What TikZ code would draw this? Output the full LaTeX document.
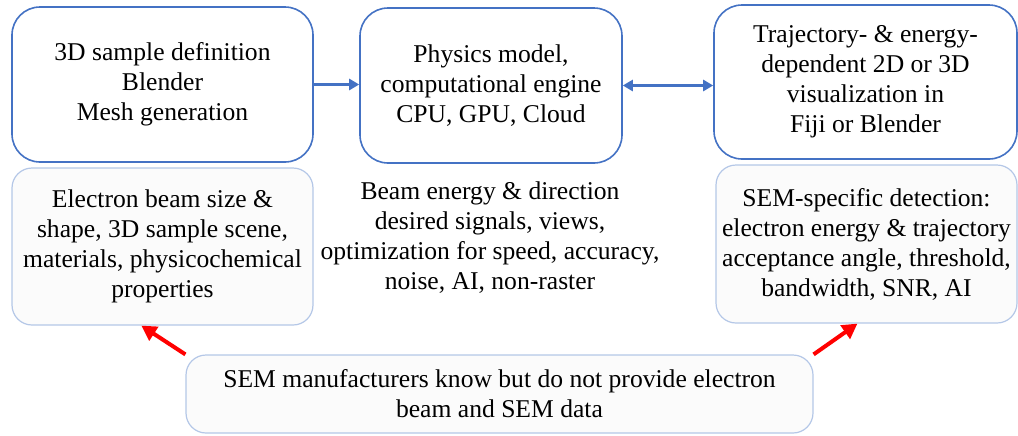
\documentclass[tikz,border=0pt]{standalone}
\usepackage{xcolor}
\usepackage{fontspec}
\setmainfont{Liberation Serif}
\usepackage{tikz}
\usetikzlibrary{arrows.meta,calc}
\definecolor{boxblue}{HTML}{4472C4}
\definecolor{paleblue}{HTML}{B4C7E7}
\definecolor{offwhite}{HTML}{FBFBFB}

\begin{document}
\begin{tikzpicture}[x=0.5pt,y=-0.5pt]
\tikzstyle{stage} = [draw=boxblue,line width=0.8pt,rounded corners=14pt,fill=white,inner sep=0pt,align=center,font=\fontsize{12.8}{15}\selectfont];
\tikzstyle{info} = [draw=paleblue,line width=0.6pt,rounded corners=10pt,fill=offwhite,inner sep=0pt,align=center,font=\fontsize{12.8}{15}\selectfont];
\tikzstyle{flow} = [draw=boxblue,line width=1.5pt,-{Triangle[length=5pt,width=5.5pt]}];
\tikzstyle{feed} = [draw=red,line width=2pt,-{Triangle[length=7.5pt,width=8pt]}];
\useasboundingbox (0,0) rectangle (1018,435);

% top row
\node [stage,minimum width=150.5pt,minimum height=77.5pt] (def) at (162.5,84.5) {3D sample definition\\Blender\\Mesh generation};
\node [stage,minimum width=131pt,minimum height=77.5pt] (phys) at (491,85.5) {Physics model,\\computational engine\\CPU, GPU, Cloud};
\node [stage,minimum width=151.5pt,minimum height=77pt] (vis) at (865.5,82) {Trajectory- \& energy-\\dependent 2D or 3D\\visualization in\\Fiji or Blender};
\draw [flow] (def.east) -- (def.east -| phys.west);
\draw [flow,{Triangle[length=5pt,width=5.5pt]}-{Triangle[length=5pt,width=5.5pt]}] (phys.east) -- (phys.east -| vis.west);

% inputs
\node [info,minimum width=150.5pt,minimum height=78.5pt] (beam) at (162.5,246.5) {Electron beam size \&\\shape, 3D sample scene,\\materials, physicochemical\\properties};
\node [align=center,inner sep=0pt,font=\fontsize{12.8}{15}\selectfont] (param) at (490,238) {Beam energy \& direction\\desired signals, views,\\optimization for speed, accuracy,\\noise, AI, non-raster};
\node [info,minimum width=150.5pt,minimum height=79pt] (det) at (866.5,244) {SEM-specific detection:\\electron energy \& trajectory\\acceptance angle, threshold,\\bandwidth, SNR, AI};

\node [info,minimum width=313.5pt,minimum height=39pt] (maker) at (499.5,394) {SEM manufacturers know but do not provide electron\\beam and SEM data};
\draw [feed] (maker.north west) -- ($(beam.south west)!0.43!(beam.south east)$);
\draw [feed] (maker.north east) -- ($(det.south west)!0.47!(det.south east)$);

\end{tikzpicture}
\end{document}
